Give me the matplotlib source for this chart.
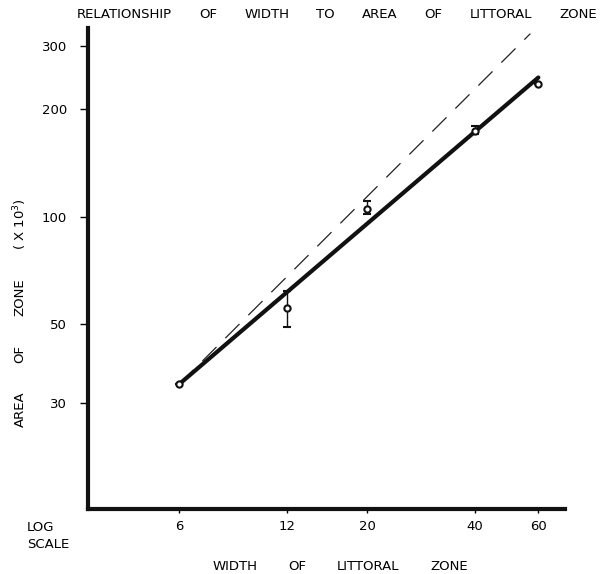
import matplotlib
matplotlib.use("Agg")
import matplotlib.pyplot as plt
from matplotlib.ticker import FixedLocator, NullLocator

# Data
width = [6, 12, 20, 40, 60]
area = [34, 55.5, 105, 174, 235]
err_low = [34, 49, 102, 170, 235]
err_high = [34, 62, 110.5, 179, 235]

solid_x = [6, 60]
solid_y = [34, 245]
dashed_x = [6, 57]
dashed_y = [34, 325]

xticks = [6, 12, 20, 40, 60]
yticks = [30, 50, 100, 200, 300]

title_words = ["RELATIONSHIP", "OF", "WIDTH", "TO", "AREA", "OF", "LITTORAL", "ZONE"]
xlabel_words = ["WIDTH", "OF", "LITTORAL", "ZONE"]
ylabel_words = ["AREA", "OF", "ZONE", "( X 10$^3$)"]

plt.rcParams['font.family'] = ['DejaVu Sans']

W, H = 600, 574
fig = plt.figure(figsize=(6.0, 5.74), dpi=100)
ax = fig.add_axes([0.1467, 0.1132, 0.795, 0.838])
ax.set_xscale('log')
ax.set_yscale('log')
ax.set_xlim(3.34, 71.2)
ax.set_ylim(15.2, 337)

# lines
ax.plot(dashed_x, dashed_y, color='#222222', lw=0.9, dashes=(16, 10))
ax.plot(solid_x, solid_y, color='#111111', lw=3.0, solid_capstyle='round')

# points with error bars
yerr = [[a - l for a, l in zip(area, err_low)], [h - a for a, h in zip(area, err_high)]]
ax.errorbar(width, area, yerr=yerr, fmt='o', ms=4.5, mfc='white', mec='#111111',
            mew=1.5, ecolor='#111111', elinewidth=1.0, capsize=3, capthick=1.2)

# spines
for s in ['top', 'right']:
    ax.spines[s].set_visible(False)
for s in ['left', 'bottom']:
    ax.spines[s].set_linewidth(3.0)
    ax.spines[s].set_color('#111111')

ax.xaxis.set_major_locator(FixedLocator(xticks))
ax.xaxis.set_minor_locator(NullLocator())
ax.yaxis.set_major_locator(FixedLocator(yticks))
ax.yaxis.set_minor_locator(NullLocator())
ax.set_xticklabels([str(v) for v in xticks])
ax.set_yticklabels([str(v) for v in yticks])
ax.tick_params(axis='y', direction='out', length=6, width=1.0, pad=9, labelsize=9.5)
ax.tick_params(axis='x', direction='out', length=3, width=1.0, pad=5, labelsize=9.5)

renderer = fig.canvas.get_renderer()


def spread(words, start, end, fixed, vertical=False, fs=9):
    texts = []
    for w in words:
        if vertical:
            t = fig.text(fixed / W, 0.5, w, fontsize=fs, rotation=90, ha='center', va='bottom')
        else:
            t = fig.text(0, 1 - fixed / H, w, fontsize=fs, ha='left', va='center')
        texts.append(t)
    sizes = []
    for t in texts:
        bb = t.get_window_extent(renderer)
        sizes.append(bb.height if vertical else bb.width)
    gap = (abs(end - start) - sum(sizes)) / (len(words) - 1)
    pos = start
    for t, s in zip(texts, sizes):
        if vertical:
            # pixels from top; start is the bottom edge of the first word
            t.set_position((fixed / W, 1 - pos / H))
            pos -= s + gap
        else:
            t.set_position((pos / W, 1 - fixed / H))
            pos += s + gap


spread(title_words, 77, 597, 14, fs=9.5)
spread(xlabel_words, 213, 468, 566, fs=9.5)
spread(ylabel_words, 427, 198, 20, vertical=True, fs=9.5)

fig.text(27 / W, 1 - 536 / H, "LOG\nSCALE", fontsize=9.5, ha='left', va='center',
         linespacing=1.35)

fig.savefig("out.png", dpi=100)
